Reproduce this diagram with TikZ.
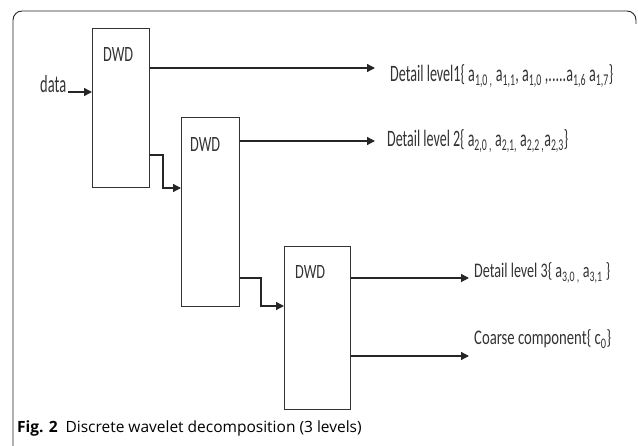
\documentclass[tikz,border=0pt]{standalone}
\usepackage{fontspec}
\setmainfont{Carlito}
\newfontfamily\capfont{Open Sans}
\usetikzlibrary{arrows.meta}
\begin{document}
\begin{tikzpicture}[x=1pt,y=-1pt,
  dwdbox/.style={draw=black!80,line width=1.1pt,inner sep=0pt,anchor=north west},
  conn/.style={draw=black!85,line width=1.3pt,-{Triangle[length=8pt,width=8pt]}},
  lbl/.style={inner sep=0pt,anchor=base west,text=black!80,font=\fontsize{17}{17}\selectfont}]
\useasboundingbox (0,0) rectangle (638,446);
% frame
\draw[black!85,line width=0.9pt,rounded corners=9pt] (13,446) -- (13,11) -- (636,11) -- (636,24);
% boxes
\node[dwdbox,minimum width=57pt,minimum height=159pt] (b1) at (92,28) {};
\node[dwdbox,minimum width=58pt,minimum height=189pt] (b2) at (181,117) {};
\node[dwdbox,minimum width=66pt,minimum height=163pt] (b3) at (284,246) {};
\node[lbl] (t1) at (103,62) {\resizebox{30pt}{14pt}{DWD}};
\node[lbl] (t2) at (190,152) {\resizebox{30pt}{14pt}{DWD}};
\node[lbl] (t3) at (295,279) {\resizebox{30pt}{13pt}{DWD}};
% labels
\node[lbl] (data) at (40,93) {\resizebox{26pt}{17pt}{data}};
\node[lbl] (d1) at (390,82) {\resizebox{223pt}{17pt}{Detail level1\{ a\textsubscript{1,0 ,} a\textsubscript{1,1}, a\textsubscript{1,0} ,.....a\textsubscript{1,6} a\textsubscript{1,7}\}}};
\node[lbl] (d2) at (387,147) {\resizebox{181pt}{17pt}{Detail level 2\{ a\textsubscript{2,0 ,} a\textsubscript{2,1,} a\textsubscript{2,2 ,}a\textsubscript{2,3}\}}};
\node[lbl] (d3) at (474,278) {\resizebox{136pt}{15pt}{Detail level 3\{ a\textsubscript{3,0 ,} a\textsubscript{3,1} \}}};
\node[lbl] (cc) at (474,345) {\resizebox{137pt}{15pt}{Coarse component\{ c\textsubscript{0}\}}};
% connectors
\coordinate (e1) at (375,68);
\coordinate (e2) at (375,141);
\coordinate (e3) at (469,278);
\coordinate (e4) at (469,356);
\draw[conn] (68,92) -- (b1.west |- 0,92);
\draw[conn] (b1.east |- e1) -- (e1);
\draw[conn] (b2.east |- e2) -- (e2);
\draw[conn] (b3.east |- e3) -- (e3);
\draw[conn] (b3.east |- e4) -- (e4);
\draw[conn] (b1.east |- 0,155) -- (163,155) -- (163,188) -- (b2.west |- 0,188);
\draw[conn] (b2.east |- 0,278) -- (261,278) -- (261,306) -- (b3.west |- 0,306);
% caption
\node[inner sep=0pt,anchor=west] (cap) at (17,428) {\capfont\fontsize{15.5}{16}\selectfont\textbf{Fig. 2}\enspace Discrete wavelet decomposition (3 levels)};
\end{tikzpicture}
\end{document}
